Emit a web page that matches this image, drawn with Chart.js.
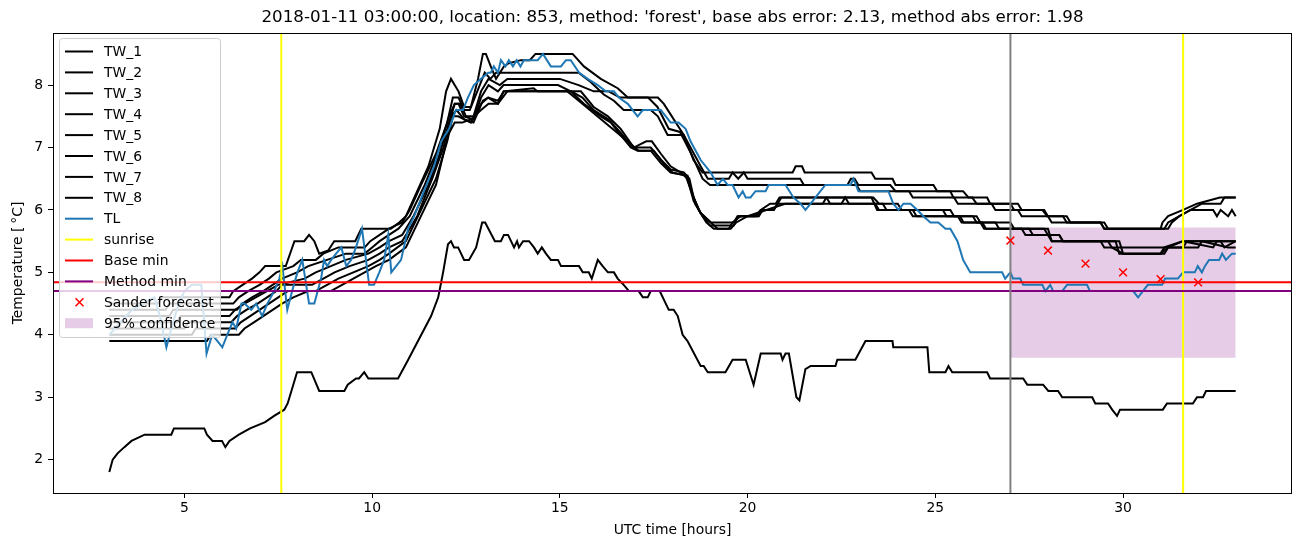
<!DOCTYPE html>
<html>
<head>
<meta charset="utf-8">
<script src="https://cdn.jsdelivr.net/npm/chart.js@4.4.1/dist/chart.umd.min.js"></script>
<style>
  html, body { margin: 0; padding: 0; background: #fff; }
</style>
</head>
<body>
<canvas id="chart" width="1302" height="547"></canvas>
<script>
// axis ticks
var xTicks = [5, 10, 15, 20, 25, 30];
var yTicks = [2, 3, 4, 5, 6, 7, 8];

// temperature series, [hour, value]
var TW_1 = [[3,4.5],[4.3,4.5],[4.4,4.6],[6.2,4.6],[6.3,4.7],[6.55,4.8],[6.8,4.9],[7.0,5.0],[7.15,5.1],[7.7,5.1],[7.93,5.5],[8.19,5.5],[8.32,5.6],[8.46,5.5],[8.59,5.3],[8.83,5.35],[8.99,5.5],[9.55,5.5],[9.71,5.7],[10.5,5.7],[10.72,5.8],[10.9,5.9],[11.2,6.3],[11.5,6.7],[11.8,7.3],[11.97,7.9],[12.1,8.1],[12.3,7.9],[12.45,7.65],[12.63,7.65],[12.82,8.1],[12.95,8.5],[13.03,8.5],[13.16,8.3],[13.3,8.1],[13.51,8.3],[13.64,8.35],[13.96,8.4],[14.2,8.4],[14.35,8.5],[15.34,8.5],[15.64,8.3],[16.09,8.1],[16.54,7.95],[16.81,7.8],[17.61,7.8],[17.77,7.7],[18.3,7.2],[18.56,6.8],[18.8,6.6],[21.2,6.6],[21.28,6.7],[21.45,6.7],[21.52,6.6],[23.3,6.6],[23.4,6.5],[23.86,6.5],[23.94,6.4],[24.95,6.4],[25.05,6.3],[25.74,6.3],[25.88,6.2],[26.38,6.2],[26.46,6.1],[27.2,6.1],[27.3,6.0],[27.9,6.0],[28.0,5.9],[28.4,5.9],[28.5,5.8],[29.4,5.8],[29.5,5.7],[31.0,5.7],[31.05,5.8],[31.2,5.9],[31.6,6.0],[31.97,6.1],[32.58,6.2],[33.0,6.2]];
var TW_2 = [[3,4.4],[4.5,4.4],[4.6,4.5],[6.3,4.5],[6.45,4.6],[6.7,4.7],[7.0,4.8],[7.25,4.9],[7.45,5.0],[7.9,5.1],[8.1,5.2],[8.5,5.2],[8.7,5.3],[9.1,5.4],[9.8,5.4],[9.95,5.5],[10.2,5.6],[10.45,5.7],[10.8,5.8],[11.0,6.0],[11.3,6.4],[11.7,6.9],[12.0,7.4],[12.15,7.8],[12.3,7.8],[12.45,7.6],[12.6,7.6],[12.8,7.9],[13.0,8.2],[13.15,8.1],[13.3,8.2],[15.5,8.2],[15.82,8.05],[16.17,7.85],[16.44,7.75],[16.7,7.6],[17.42,7.6],[17.61,7.5],[17.87,7.2],[18.3,7.2],[18.48,7.0],[18.75,6.7],[18.94,6.5],[19.5,6.5],[19.6,6.6],[19.75,6.5],[19.9,6.6],[20.0,6.5],[21.4,6.5],[21.5,6.4],[22.66,6.4],[22.75,6.5],[22.85,6.5],[22.95,6.4],[23.8,6.4],[23.94,6.3],[25.4,6.3],[25.48,6.2],[25.98,6.2],[26.1,6.1],[27.0,6.1],[27.1,6.0],[27.85,6.0],[27.98,5.9],[28.5,5.9],[28.6,5.8],[29.5,5.8],[29.6,5.7],[31.1,5.7],[31.2,5.8],[31.5,5.9],[31.8,6.0],[32.4,6.0],[32.5,5.9],[32.6,6.0],[32.8,5.9],[32.9,6.0],[33.0,5.9]];
var TW_3 = [[3,4.3],[4.6,4.3],[4.7,4.4],[6.4,4.4],[6.55,4.5],[6.8,4.6],[7.1,4.7],[7.35,4.8],[7.6,4.9],[8.0,5.0],[8.3,5.1],[8.8,5.2],[9.3,5.3],[9.8,5.3],[10.0,5.4],[10.2,5.5],[10.45,5.6],[10.7,5.7],[11.0,5.9],[11.4,6.4],[11.8,7.0],[12.05,7.5],[12.2,7.7],[12.35,7.7],[12.5,7.5],[12.7,7.5],[12.9,7.9],[13.1,8.1],[13.4,8.0],[13.6,8.1],[15.0,8.1],[15.5,8.0],[15.9,7.9],[16.3,7.9],[16.6,7.8],[17.35,7.8],[17.6,7.65],[17.9,7.3],[18.2,7.25],[18.5,6.9],[18.8,6.5],[19.0,6.4],[22.9,6.4],[23.0,6.3],[24.3,6.3],[24.4,6.2],[25.5,6.2],[25.6,6.1],[26.5,6.1],[26.6,6.0],[27.2,6.0],[27.3,5.9],[28.0,5.9],[28.1,5.8],[29.4,5.8],[29.5,5.7],[31.2,5.7],[31.3,5.8],[31.5,5.9],[31.8,6.0],[32.1,6.1],[32.6,6.1],[32.7,6.2],[33.0,6.2]];
var TW_4 = [[3,4.2],[4.8,4.2],[4.9,4.3],[6.2,4.3],[6.35,4.4],[6.6,4.5],[6.9,4.6],[7.2,4.7],[7.5,4.8],[8.2,4.9],[8.5,5.0],[8.9,5.1],[9.3,5.2],[9.9,5.3],[10.2,5.4],[10.45,5.5],[10.8,5.6],[11.1,5.9],[11.5,6.4],[11.8,6.9],[12.05,7.4],[12.2,7.7],[12.3,7.7],[12.45,7.5],[12.7,7.45],[12.9,7.8],[13.1,8.0],[13.35,7.9],[13.5,8.0],[14.95,8.0],[15.29,7.9],[15.64,7.7],[16.09,7.5],[16.36,7.4],[16.62,7.2],[16.89,7.0],[17.07,6.95],[17.42,6.95],[17.69,6.75],[17.95,6.6],[18.4,6.55],[18.56,6.2],[18.75,5.95],[19.02,5.8],[19.63,5.8],[19.73,5.9],[20.3,5.9],[20.4,6.0],[20.7,6.0],[20.8,6.1],[20.9,6.2],[23.35,6.2],[23.5,6.1],[24.0,6.1],[24.1,6.0],[25.4,6.0],[25.5,5.9],[26.1,5.9],[26.2,5.8],[27.0,5.8],[27.1,5.7],[27.9,5.7],[28.0,5.6],[28.3,5.6],[28.4,5.5],[29.4,5.5],[29.5,5.4],[31.6,5.4],[31.7,5.5],[33.0,5.5]];
var TW_5 = [[3,4.1],[5.0,4.1],[5.1,4.2],[6.25,4.2],[6.4,4.3],[6.65,4.4],[6.95,4.5],[7.2,4.6],[7.45,4.7],[7.6,4.8],[8.4,4.8],[8.7,4.9],[9.0,5.0],[9.4,5.1],[9.9,5.2],[10.2,5.3],[10.45,5.4],[10.8,5.5],[11.2,5.9],[11.6,6.5],[11.9,7.0],[12.1,7.5],[12.25,7.6],[12.45,7.45],[12.7,7.4],[12.95,7.75],[13.09,7.8],[13.35,7.7],[13.5,7.9],[14.3,7.95],[14.4,7.9],[15.56,7.9],[15.9,7.65],[16.28,7.5],[16.62,7.3],[16.97,7.0],[17.3,7.1],[17.45,7.1],[17.69,6.9],[17.95,6.7],[18.22,6.6],[18.4,6.5],[18.56,6.15],[18.75,5.95],[19.02,5.8],[19.2,5.7],[19.5,5.7],[19.6,5.8],[19.81,5.9],[20.2,5.9],[20.35,6.0],[20.6,6.1],[20.75,6.1],[20.85,6.2],[22.1,6.2],[22.2,6.1],[23.4,6.1],[23.5,6.0],[24.4,6.0],[24.5,5.9],[25.6,5.9],[25.7,5.8],[26.2,5.8],[26.3,5.7],[27.3,5.7],[27.4,5.6],[28.0,5.6],[28.1,5.5],[29.8,5.5],[29.9,5.3],[31.0,5.3],[31.1,5.4],[31.6,5.5],[32.4,5.4],[32.5,5.5],[33.0,5.5]];
var TW_6 = [[3,4.0],[5.2,4.0],[5.3,4.1],[6.35,4.1],[6.5,4.2],[6.75,4.3],[7.0,4.4],[7.25,4.5],[7.5,4.6],[7.75,4.7],[8.5,4.7],[8.8,4.8],[9.1,4.9],[9.5,5.0],[9.9,5.1],[10.2,5.2],[10.45,5.3],[10.9,5.5],[11.3,6.0],[11.7,6.5],[12.0,7.1],[12.15,7.5],[12.29,7.5],[12.63,7.4],[12.9,7.7],[13.09,7.8],[13.35,7.75],[13.51,7.9],[15.3,7.9],[15.6,7.8],[15.9,7.6],[16.3,7.45],[16.6,7.25],[16.95,7.0],[17.42,7.0],[17.7,6.8],[17.95,6.65],[18.3,6.6],[18.45,6.5],[18.6,6.1],[18.8,5.9],[19.0,5.75],[19.63,5.75],[19.75,5.9],[20.27,5.9],[20.35,6.0],[20.69,6.0],[20.8,6.1],[22.5,6.1],[22.6,6.2],[22.7,6.1],[23.6,6.1],[23.7,6.0],[24.3,6.0],[24.4,5.9],[25.66,5.9],[25.75,5.8],[26.25,5.8],[26.35,5.7],[27.5,5.7],[27.6,5.6],[28.3,5.6],[28.4,5.5],[29.9,5.5],[30.0,5.3],[31.0,5.3],[31.2,5.4],[32.0,5.4],[32.1,5.5],[32.8,5.4],[33.0,5.4]];
var TW_7 = [[3,3.9],[5.6,3.9],[5.7,4.0],[6.45,4.0],[6.6,4.1],[6.85,4.2],[7.1,4.3],[7.35,4.4],[7.6,4.5],[7.9,4.6],[8.3,4.7],[8.9,4.7],[9.2,4.8],[9.5,4.9],[9.8,5.0],[10.1,5.1],[10.45,5.2],[10.9,5.4],[11.3,5.9],[11.7,6.4],[12.02,7.2],[12.2,7.4],[12.4,7.4],[12.63,7.45],[12.9,7.6],[13.1,7.7],[13.35,7.7],[13.6,7.9],[15.2,7.9],[15.6,7.7],[16.0,7.5],[16.4,7.3],[16.8,7.1],[17.1,6.95],[17.5,6.95],[17.75,6.75],[18.0,6.6],[18.35,6.55],[18.5,6.3],[18.7,6.0],[18.9,5.8],[19.1,5.7],[19.55,5.7],[19.7,5.8],[20.0,5.9],[20.5,6.0],[21.0,6.1],[22.0,6.1],[22.1,6.2],[23.3,6.2],[23.45,6.0],[25.2,6.0],[25.3,5.9],[26.0,5.9],[26.1,5.8],[26.6,5.8],[26.7,5.7],[28.0,5.7],[28.1,5.5],[29.6,5.5],[29.7,5.4],[30.0,5.3],[31.1,5.3],[31.2,5.4],[31.6,5.5],[32.6,5.5],[32.7,5.4],[33.0,5.5]];
var TW_8 = [[3.0,1.8],[3.09,2.0],[3.22,2.1],[3.4,2.2],[3.59,2.3],[3.94,2.4],[4.65,2.4],[4.72,2.5],[5.53,2.5],[5.6,2.4],[5.75,2.3],[6.0,2.3],[6.09,2.2],[6.2,2.3],[6.45,2.4],[6.75,2.5],[7.15,2.6],[7.39,2.7],[7.66,2.8],[7.75,2.9],[7.9,3.2],[8.0,3.4],[8.38,3.4],[8.59,3.1],[9.26,3.1],[9.35,3.2],[9.57,3.3],[9.65,3.3],[9.79,3.4],[9.9,3.3],[10.69,3.3],[10.96,3.6],[11.57,4.3],[11.76,4.6],[11.89,5.0],[12.02,5.45],[12.1,5.5],[12.18,5.4],[12.29,5.4],[12.45,5.2],[12.58,5.2],[12.77,5.4],[12.93,5.8],[13.01,5.8],[13.27,5.5],[13.43,5.5],[13.51,5.6],[13.62,5.6],[13.78,5.4],[13.86,5.5],[13.91,5.4],[14.02,5.5],[14.18,5.5],[14.31,5.4],[14.41,5.3],[14.52,5.4],[14.63,5.3],[14.76,5.2],[14.95,5.2],[15.03,5.1],[15.51,5.1],[15.61,5.0],[15.77,5.0],[15.85,4.9],[16.01,5.2],[16.14,5.1],[16.28,5.0],[16.44,5.0],[16.54,4.9],[16.7,4.8],[16.84,4.7],[17.1,4.7],[17.21,4.6],[17.34,4.6],[17.42,4.7],[17.66,4.7],[17.9,4.4],[18.03,4.4],[18.14,4.3],[18.27,4.0],[18.4,3.9],[18.75,3.5],[18.83,3.5],[18.94,3.4],[19.41,3.4],[19.6,3.6],[19.95,3.6],[20.16,3.2],[20.35,3.7],[20.88,3.7],[20.93,3.6],[21.01,3.7],[21.1,3.7],[21.3,3.0],[21.38,2.95],[21.54,3.45],[21.68,3.5],[22.34,3.5],[22.39,3.6],[22.87,3.6],[23.14,3.9],[23.86,3.9],[23.88,3.8],[24.79,3.8],[24.84,3.4],[25.27,3.4],[25.35,3.5],[25.45,3.4],[26.38,3.4],[26.46,3.3],[27.34,3.3],[27.45,3.2],[27.87,3.2],[28.01,3.1],[28.27,3.1],[28.38,3.0],[29.18,3.0],[29.26,2.9],[29.6,2.9],[29.71,2.8],[29.84,2.7],[29.92,2.8],[31.06,2.8],[31.17,2.9],[31.86,2.9],[31.97,3.0],[32.13,3.0],[32.21,3.1],[33.0,3.1]];
var TL = [[3.0,4.0],[3.3,4.2],[3.6,4.4],[3.9,4.5],[4.2,4.6],[4.35,4.3],[4.52,3.8],[4.65,4.1],[4.85,4.5],[5.0,4.7],[5.2,4.8],[5.45,4.8],[5.59,3.7],[5.74,4.0],[5.88,3.9],[6.01,3.8],[6.14,4.0],[6.28,4.2],[6.38,4.1],[6.52,4.5],[6.6,4.5],[6.78,4.4],[6.91,4.5],[7.07,4.3],[7.21,4.5],[7.39,4.7],[7.53,4.9],[7.61,5.1],[7.74,4.4],[7.87,4.7],[8.01,5.0],[8.14,5.2],[8.32,4.5],[8.46,4.5],[8.64,4.9],[8.72,5.2],[8.8,5.1],[8.91,5.2],[9.04,5.3],[9.18,5.4],[9.31,5.1],[9.44,5.2],[9.57,5.4],[9.73,5.7],[9.92,4.8],[10.05,4.8],[10.19,5.0],[10.32,5.2],[10.43,5.6],[10.51,5.0],[10.64,5.1],[10.77,5.2],[10.96,5.7],[11.12,5.9],[11.38,6.3],[11.65,6.7],[11.84,7.1],[12.05,7.3],[12.23,7.6],[12.42,7.6],[12.55,7.8],[12.71,8.0],[12.9,8.1],[13.09,8.2],[13.16,8.2],[13.24,8.3],[13.35,8.2],[13.43,8.4],[13.55,8.3],[13.64,8.4],[13.75,8.3],[13.85,8.4],[13.95,8.3],[14.04,8.4],[14.41,8.4],[14.55,8.5],[14.76,8.3],[15.03,8.3],[15.16,8.4],[15.29,8.4],[15.51,8.2],[15.74,8.1],[16.01,8.0],[16.22,7.9],[16.44,7.9],[16.57,7.8],[16.81,7.7],[17.07,7.5],[17.21,7.6],[17.69,7.6],[17.95,7.4],[18.16,7.4],[18.35,7.3],[18.48,7.1],[18.75,6.8],[19.02,6.6],[19.2,6.4],[19.34,6.5],[19.47,6.4],[19.6,6.4],[19.76,6.2],[19.87,6.3],[19.95,6.2],[20.08,6.2],[20.21,6.3],[20.48,6.3],[20.56,6.4],[21.01,6.4],[21.22,6.2],[21.41,6.1],[21.54,6.0],[21.68,6.1],[21.81,6.2],[22.07,6.4],[22.74,6.4],[22.82,6.5],[22.95,6.3],[23.75,6.3],[23.88,6.1],[24.02,6.0],[24.15,6.1],[24.34,6.1],[24.52,6.0],[24.68,5.9],[24.87,5.8],[25.08,5.8],[25.27,5.7],[25.4,5.7],[25.59,5.5],[25.74,5.2],[25.93,5.0],[26.78,5.0],[26.86,4.9],[27.0,5.0],[27.07,4.9],[27.26,4.9],[27.34,4.8],[27.85,4.8],[27.93,4.7],[28.06,4.8],[28.14,4.7],[28.38,4.7],[28.51,4.8],[29.04,4.8],[29.12,4.7],[30.27,4.7],[30.4,4.6],[30.53,4.7],[30.66,4.8],[31.04,4.8],[31.12,4.9],[31.46,4.9],[31.6,5.0],[31.91,5.0],[31.99,5.1],[32.1,5.0],[32.18,5.1],[32.29,5.2],[32.56,5.2],[32.64,5.3],[32.74,5.2],[32.9,5.3],[33.0,5.3]];

// markers / reference lines
var sunriseHours = [7.58, 31.6];
var forecastHour = 27;
var baseMin = 4.84;
var methodMin = 4.70;
var sanderHours = [27, 28, 29, 30, 31, 32];
var sanderValues = [5.51, 5.35, 5.14, 5.00, 4.89, 4.84];
var confHours = [27, 33];
var confLow = 3.63;
var confHigh = 5.72;

var xMin = 1.5, xMax = 34.5, yMin = 1.465, yMax = 8.835;
var FONT = '"DejaVu Sans", sans-serif';

function pts(arr) {
    return arr.map(function (p) { return { x: p[0], y: p[1] }; });
}
function vline(h) {
    return [{ x: h, y: yMin }, { x: h, y: yMax }];
}
function hline(v) {
    return [{ x: xMin, y: v }, { x: xMax, y: v }];
}
function lineSet(label, data, color, order) {
    return {
        label: label, data: data, borderColor: color, backgroundColor: color,
        borderWidth: 2, pointRadius: 0, tension: 0, fill: false, order: order
    };
}

var datasets = [];
var tws = [TW_1, TW_2, TW_3, TW_4, TW_5, TW_6, TW_7, TW_8];
tws.forEach(function (s, i) {
    datasets.push(lineSet('TW_' + (i + 1), pts(s), '#000000', 50));
});
datasets.push(lineSet('TL', pts(TL), '#1f77b4', 40));
datasets.push(lineSet('sunrise', vline(sunriseHours[0]), '#ffff00', 30));
datasets.push(lineSet('', vline(sunriseHours[1]), '#ffff00', 30));
datasets.push(lineSet('Base min', hline(baseMin), '#ff0000', 25));
datasets.push(lineSet('Method min', hline(methodMin), '#800080', 24));
datasets.push(lineSet('', vline(forecastHour), '#808080', 22));
datasets.push({
    label: 'Sander forecast',
    data: sanderHours.map(function (h, i) { return { x: h, y: sanderValues[i] }; }),
    showLine: false, pointStyle: 'crossRot', pointRadius: 5.5,
    borderColor: '#ff0000', backgroundColor: '#ff0000', pointBorderWidth: 1.5, order: 10
});
datasets.push({
    label: '95% confidence',
    data: confHours.map(function (h) { return { x: h, y: confHigh }; }),
    borderWidth: 0, pointRadius: 0, borderColor: 'rgba(0,0,0,0)',
    backgroundColor: 'rgba(128,0,128,0.2)', fill: { value: confLow }, order: 100
});

var decor = {
    id: 'decor',
    afterDraw: function (chart) {
        var ctx = chart.ctx, a = chart.chartArea;
        ctx.save();
        // frame
        ctx.strokeStyle = '#000';
        ctx.lineWidth = 1;
        ctx.strokeRect(a.left + 0.5, a.top + 0.5, a.right - a.left - 1, a.bottom - a.top);

        // title and axis labels
        ctx.fillStyle = '#000';
        ctx.textAlign = 'center';
        ctx.textBaseline = 'middle';
        ctx.font = '16.7px ' + FONT;
        ctx.fillText("2018-01-11 03:00:00, location: 853, method: 'forest', base abs error: 2.13, method abs error: 1.98", (a.left + a.right) / 2, 18);
        ctx.font = '13.9px ' + FONT;
        ctx.fillText('UTC time [hours]', (a.left + a.right) / 2, 530);
        ctx.save();
        ctx.translate(18, (a.top + a.bottom) / 2);
        ctx.rotate(-Math.PI / 2);
        ctx.fillText('Temperature [\u2009\u00b0C]', 0, 0);
        ctx.restore();

        // legend inside the axes, upper left
        var items = chart.data.datasets.filter(function (d) { return d.label; });
        var bx = 59.5, by = 38.5, bw = 161, bh = 299;
        ctx.beginPath();
        if (ctx.roundRect) ctx.roundRect(bx, by, bw, bh, 3); else ctx.rect(bx, by, bw, bh);
        ctx.fillStyle = 'rgba(255,255,255,0.8)';
        ctx.fill();
        ctx.strokeStyle = '#cccccc';
        ctx.stroke();
        ctx.textAlign = 'left';
        items.forEach(function (d, i) {
            var y = 51.5 + i * 20.9;
            if (d.showLine === false) {
                ctx.strokeStyle = d.borderColor;
                ctx.lineWidth = 1.5;
                ctx.beginPath();
                ctx.moveTo(75.5, y - 4); ctx.lineTo(83.5, y + 4);
                ctx.moveTo(83.5, y - 4); ctx.lineTo(75.5, y + 4);
                ctx.stroke();
            } else if (d.fill) {
                ctx.fillStyle = d.backgroundColor;
                ctx.fillRect(65, y - 5, 28, 10);
            } else {
                ctx.strokeStyle = d.borderColor;
                ctx.lineWidth = 2;
                ctx.beginPath();
                ctx.moveTo(65, y); ctx.lineTo(93, y);
                ctx.stroke();
            }
            ctx.fillStyle = '#000';
            ctx.fillText(d.label, 104, y + 1);
        });
        ctx.restore();
    }
};

new Chart(document.getElementById('chart').getContext('2d'), {
    type: 'line',
    data: { datasets: datasets },
    options: {
        responsive: false,
        animation: false,
        devicePixelRatio: 1,
        layout: { padding: { top: 33, right: 10, left: 0, bottom: 0 } },
        plugins: { legend: { display: false }, tooltip: { enabled: false }, title: { display: false } },
        scales: {
            x: {
                type: 'linear', min: xMin, max: xMax,
                afterBuildTicks: function (s) { s.ticks = xTicks.map(function (v) { return { value: v }; }); },
                afterFit: function (s) { s.height = 54; },
                ticks: { color: '#000', font: { family: FONT, size: 13.9 }, padding: 2, maxRotation: 0, autoSkip: false },
                grid: { drawOnChartArea: false, drawTicks: true, tickLength: 5, color: '#000' },
                border: { display: false }
            },
            y: {
                type: 'linear', min: yMin, max: yMax,
                afterBuildTicks: function (s) { s.ticks = yTicks.map(function (v) { return { value: v }; }); },
                afterFit: function (s) { s.width = 53; },
                ticks: { color: '#000', font: { family: FONT, size: 13.9 }, padding: 5, autoSkip: false },
                grid: { drawOnChartArea: false, drawTicks: true, tickLength: 5, color: '#000' },
                border: { display: false }
            }
        }
    },
    plugins: [decor]
});
</script>
</body>
</html>
